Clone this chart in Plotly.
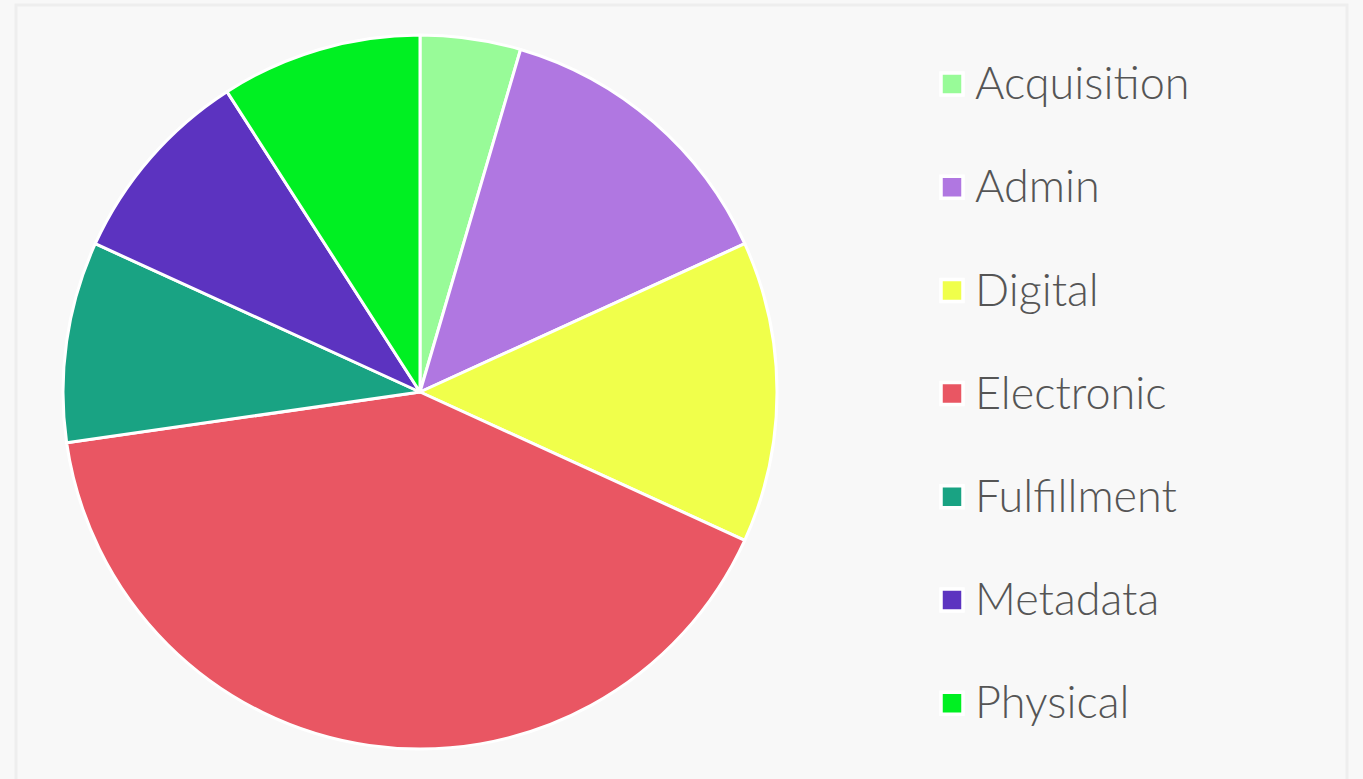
import plotly.graph_objects as go

labels = ["Acquisition", "Admin", "Digital", "Electronic", "Fulfillment", "Metadata", "Physical"]
values = [1, 3, 3, 9, 2, 2, 2]
colors = ["#98fb98", "#b077e1", "#f0ff4b", "#e95663", "#19a383", "#5c33c0", "#00f022"]

W, H = 1363, 779
mt, mb = 35, 30
ph = H - mt - mb

fig = go.Figure()
fig.add_trace(go.Pie(
    labels=labels, values=values, sort=False, direction="clockwise", rotation=0,
    marker=dict(colors=colors, line=dict(color="white", width=3)),
    textinfo="none", showlegend=False,
    domain=dict(x=[63 / W, 777 / W], y=[0, 1]),
))

# legend drawn as scatter on a pixel-mapped axis
leg_y0, leg_dy = 84, 103.2
ys = [leg_y0 + i * leg_dy for i in range(len(labels))]
fig.add_trace(go.Scatter(
    x=[952] * len(labels), y=ys, mode="markers",
    marker=dict(symbol="square", size=22, color=colors, line=dict(color="white", width=3.5)),
    hoverinfo="skip", showlegend=False, xaxis="x", yaxis="y",
))
fig.add_trace(go.Scatter(
    x=[975] * len(labels), y=[y + 4 for y in ys], mode="text", text=labels,
    textposition="middle right",
    textfont=dict(family="Lato", size=45, weight=300, color="#555555"),
    hoverinfo="skip", showlegend=False, xaxis="x", yaxis="y",
))

def py(p):
    return (H - mb - p) / ph

fig.update_layout(
    width=W, height=H,
    margin=dict(l=0, r=0, t=mt, b=mb),
    paper_bgcolor="#f8f8f8", plot_bgcolor="rgba(0,0,0,0)",
    xaxis=dict(range=[0, W], visible=False, fixedrange=True, domain=[0, 1]),
    yaxis=dict(range=[H - mb, mt], visible=False, fixedrange=True, domain=[0, 1]),
    showlegend=False,
    shapes=[dict(type="rect", xref="paper", yref="paper", x0=16 / W, x1=1347 / W,
                 y0=py(800), y1=py(5),
                 line=dict(color="#eeeeee", width=3), layer="below")],
)

fig.write_html(
    "out.html",
    config={"displayModeBar": False},
    post_script="document.body.style.margin='0';document.body.style.background='#f8f8f8';",
)
